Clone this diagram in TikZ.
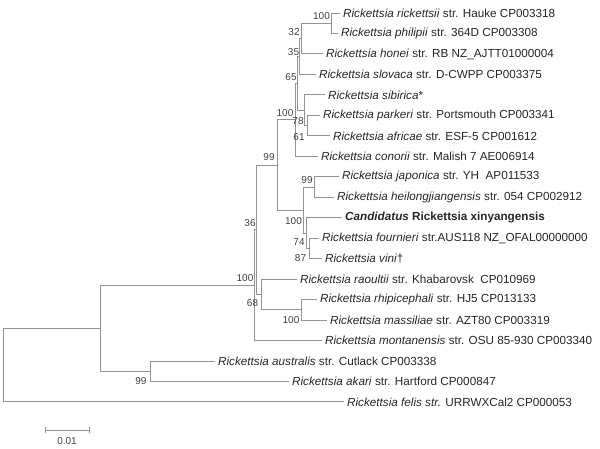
\documentclass[tikz,border=0pt]{standalone}
\usepackage{fontspec}
\setmainfont{Liberation Sans}
\begin{document}
\begin{tikzpicture}[x=1pt, y=-1pt,
	branch/.style={draw=gray!85, line width=0.9pt},
	leaf/.style={anchor=west, inner xsep=3pt, inner ysep=1pt, text=black!85, font=\fontsize{11.7}{13}\selectfont},
	boot/.style={inner sep=0pt, text=black!75, font=\fontsize{10}{12}\selectfont}]
	
	\useasboundingbox (0,0) rectangle (600,449);
	
	% Nút trong của cây (x = khoảng cách, y = giữa hai nhánh con)
	\coordinate (root) at (3.5,365);
	\coordinate (U)    at (100,328.2);
	\coordinate (AA)   at (150,371.2);
	\coordinate (Z)    at (254.5,285.1);
	\coordinate (A36)  at (256.5,229.7);
	\coordinate (R68)  at (261,294.5);
	\coordinate (RM)   at (301,309.8);
	\coordinate (B)    at (277,165);
	\coordinate (H)    at (295,119.9);
	\coordinate (G)    at (297.5,83.4);
	\coordinate (F)    at (299.5,56.5);
	\coordinate (E)    at (301.5,38.6);
	\coordinate (RP)   at (331,23.2);
	\coordinate (S)    at (304.5,110.2);
	\coordinate (PA)   at (307.5,125.6);
	\coordinate (D)    at (303,210);
	\coordinate (J)    at (314,187);
	\coordinate (X)    at (306,233);
	\coordinate (Y)    at (309.5,248.4);
	
	% Các lá (tên loài), cách đều nhau theo chiều dọc
	\foreach \nm/\xe/\i/\txt in {
		rick/340/1/{\textit{Rickettsia rickettsii} str. Hauke CP003318},
		phil/338/2/{\textit{Rickettsia philipii} str. 364D CP003308},
		honei/323/3/{\textit{Rickettsia honei} str. RB NZ\_AJTT01000004},
		slov/316/4/{\textit{Rickettsia slovaca} str. D-CWPP CP003375},
		sib/325/5/{\textit{Rickettsia sibirica}*},
		park/320/6/{\textit{Rickettsia parkeri} str. Portsmouth CP003341},
		afr/330/7/{\textit{Rickettsia africae} str. ESF-5 CP001612},
		con/318/8/{\textit{Rickettsia conorii} str. Malish 7 AE006914},
		jap/339/9/{\textit{Rickettsia japonica} str. YH~ AP011533},
		heil/334/10/{\textit{Rickettsia heilongjiangensis} str. 054 CP002912},
		cand/342/11/{\textbf{\textit{Candidatus} Rickettsia xinyangensis}},
		four/319/12/{\textit{Rickettsia fournieri} str.AUS118 NZ\_OFAL00000000},
		vini/322/13/{\textit{Rickettsia vini}†},
		raou/297/14/{\textit{Rickettsia raoultii} str. Khabarovsk~ CP010969},
		rhip/317/15/{\textit{Rickettsia rhipicephali} str. HJ5 CP013133},
		mass/327/16/{\textit{Rickettsia massiliae} str. AZT80 CP003319},
		mont/322/17/{\textit{Rickettsia montanensis} str. OSU 85-930 CP003340},
		aust/215/18/{\textit{Rickettsia australis} str. Cutlack CP003338},
		akari/289/19/{\textit{Rickettsia akari} str. Hartford CP000847},
		felis/344/20/{\textit{Rickettsia felis str.} URRWXCal2 CP000053}} {
		\node[leaf] (\nm) at (\xe,{13+(\i-1)*20.47}) {\txt};
	}
	
	% Vẽ các nhánh (cha -> con)
	\foreach \p/\c in {root/U, root/felis, U/Z, U/AA, AA/aust, AA/akari,
		Z/A36, Z/mont, A36/B, A36/R68, R68/raou, R68/RM, RM/rhip, RM/mass,
		B/H, B/D, H/G, H/con, G/F, G/S, F/E, F/slov, E/RP, E/honei,
		RP/rick, RP/phil, S/sib, S/PA, PA/park, PA/afr,
		D/J, D/X, J/jap, J/heil, X/cand, X/Y, Y/four, Y/vini} {
		\draw[branch] (\p) |- (\c);
	}
	
	% Giá trị bootstrap
	\node[boot] (bRP)  at (321.5,16) {100};
	\node[boot] (bE)   at (294,32) {32};
	\node[boot] (bF)   at (293.5,52) {35};
	\node[boot] (bG)   at (291,77) {65};
	\node[boot] (bH)   at (285,113) {100};
	\node[boot] (bS)   at (298,121) {78};
	\node[boot] (bPA)  at (299,137) {61};
	\node[boot] (bB)   at (269,157) {99};
	\node[boot] (bJ)   at (307,180) {99};
	\node[boot] (bA)   at (250,223) {36};
	\node[boot] (bX)   at (293.5,221) {100};
	\node[boot] (bY)   at (299,242) {74};
	\node[boot] (bV)   at (300.5,258) {87};
	\node[boot] (bZ)   at (245,278) {100};
	\node[boot] (bR)   at (252.5,303) {68};
	\node[boot] (bRM)  at (291,320) {100};
	\node[boot] (bAA)  at (141,381) {99};
	
	% Thước tỉ lệ
	\coordinate (sbL) at (45,430);
	\coordinate (sbR) at (89,430);
	\draw[branch] (sbL) -- (sbR);
	\draw[branch] ([yshift=-3]sbL) -- ([yshift=3]sbL);
	\draw[branch] ([yshift=-3]sbR) -- ([yshift=3]sbR);
	\node[boot] (sbT) at (67,441) {0.01};
	
\end{tikzpicture}
\end{document}
